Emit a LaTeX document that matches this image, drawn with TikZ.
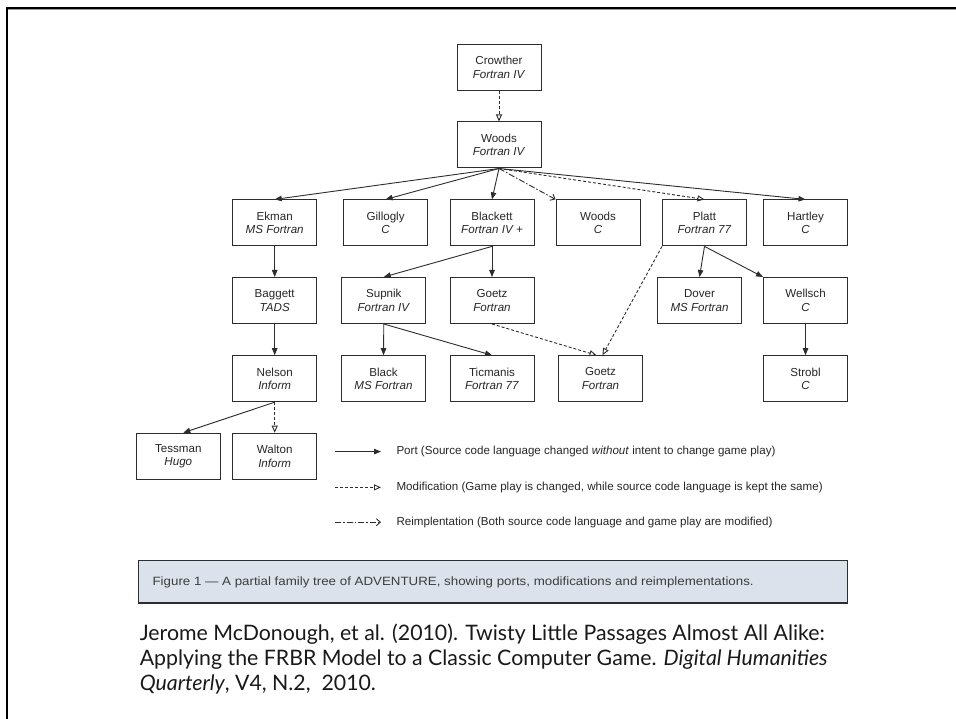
\documentclass[tikz,border=0pt]{standalone}
\usepackage{fontspec}
\setmainfont{Liberation Sans}
\newfontfamily\citefont{Lato}
\usetikzlibrary{arrows.meta}
\definecolor{linegray}{RGB}{45,45,45}
\definecolor{capfill}{RGB}{220,226,236}
\definecolor{captext}{RGB}{60,60,60}
\tikzset{
	box/.style={draw=linegray, line width=1pt, minimum width=84pt, minimum height=46pt, inner sep=0pt, align=center, text=black!85, font=\fontsize{11.6}{13.4}\selectfont},
	port/.style={draw=linegray, line width=0.9pt, -{Triangle[length=7pt,width=5.5pt]}},
	modif/.style={draw=linegray, line width=0.9pt, dash pattern=on 3pt off 2pt, -{Triangle[open,length=7pt,width=6pt]}},
	reimpl/.style={draw=linegray, line width=0.9pt, dash pattern=on 6pt off 2pt on 1.5pt off 2pt, -{Straight Barb[length=4pt,width=7pt]}},
	legendtext/.style={anchor=west, inner sep=0pt, text=black!85, font=\fontsize{11.6}{13}\selectfont},
}
\newcommand{\entry}[2]{#1\\\textit{#2}}

\begin{document}
\begin{tikzpicture}[x=1pt,y=-1pt]
			%%%%% START %%%%%
			\useasboundingbox (0,0) rectangle (956,719);
			
			\draw[line width=2.2pt] (6.6,719) -- (6.6,8) -- (956,8);
			\draw[line width=0.8pt, color=black!40] (7.7,9.8) -- (956,9.8);
			
			\node[box] (crowther) at (499,67.4) {\entry{Crowther}{Fortran IV}};
			\node[box] (woods) at (499,145) {\entry{Woods}{Fortran IV}};
			
			\node[box] (ekman) at (274.7,222.9) {\entry{Ekman}{MS Fortran}};
			\node[box] (gillogly) at (385.6,222.9) {\entry{Gillogly}{C}};
			\node[box] (blackett) at (492,222.9) {\entry{Blackett}{Fortran IV +}};
			\node[box] (woodsc) at (598,222.9) {\entry{Woods}{C}};
			\node[box] (platt) at (704.5,222.9) {\entry{Platt}{Fortran 77}};
			\node[box] (hartley) at (805.5,222.9) {\entry{Hartley}{C}};
			
			\node[box] (baggett) at (274.7,300.5) {\entry{Baggett}{TADS}};
			\node[box] (supnik) at (383.8,300.5) {\entry{Supnik}{Fortran IV}};
			\node[box] (goetz) at (492,300.5) {\entry{Goetz}{Fortran}};
			\node[box] (dover) at (699.5,300.5) {\entry{Dover}{MS Fortran}};
			\node[box] (wellsch) at (805.5,300.5) {\entry{Wellsch}{C}};
			
			\node[box] (nelson) at (274.7,378.7) {\entry{Nelson}{Inform}};
			\node[box] (black) at (383.5,378.7) {\entry{Black}{MS Fortran}};
			\node[box] (ticmanis) at (492,378.7) {\entry{Ticmanis}{Fortran 77}};
			\node[box] (goetzb) at (600.5,378.7) {\entry{Goetz}{Fortran}};
			\node[box] (strobl) at (805.5,378.7) {\entry{Strobl}{C}};
			
			\node[box] (tessman) at (178.3,456.2) {\entry{Tessman}{Hugo}};
			\node[box] (walton) at (274.7,456.2) {\entry{Walton}{Inform}};
			
			\draw[modif] (crowther) -- (woods);
			\draw[port] (woods.south) -- (ekman.north);
			\draw[port] (woods.south) -- (gillogly.north);
			\draw[port] (woods.south) -- (blackett.north);
			\draw[reimpl] (woods.south) -- (woodsc.north west);
			\draw[modif] (woods.south) -- (platt.north);
			\draw[port] (woods.south) -- (hartley.north);
			
			\draw[port] (ekman) -- (baggett);
			\draw[port] (blackett.south) -- (supnik.north);
			\draw[port] (blackett) -- (goetz);
			\draw[port] (platt.south) -- (dover.north);
			\draw[port] (platt.south) -- (wellsch.north west);
			\draw[modif] (platt.south west) -- ([xshift=2pt]goetzb.north);
			\draw[modif] (goetz.south) -- ([xshift=-4pt]goetzb.north);
			
			\draw[port] (baggett) -- (nelson);
			\draw[port] (supnik.south) -- (black.north);
			\draw[port] (supnik.south) -- (ticmanis.north);
			\draw[port] (wellsch) -- (strobl);
			
			\draw[port] (nelson.south) -- ([xshift=5pt]tessman.north);
			\draw[modif] (nelson) -- (walton);
			
			%% legend
			\coordinate (portA) at (335,451.6);
			\coordinate (portB) at (381,451.6);
			\coordinate (modA) at (335,487.4);
			\coordinate (modB) at (381,487.4);
			\coordinate (reA) at (335,522.2);
			\coordinate (reB) at (381,522.2);
			\draw[port] (portA) -- (portB);
			\draw[modif] (modA) -- (modB);
			\draw[reimpl] (reA) -- (reB);
			\node[legendtext] (porttext) at (396.3,451.6) {Port (Source code language changed \textit{without} intent to change game play)};
			\node[legendtext] (modtext) at (396.3,487.4) {Modification (Game play is changed, while source code language is kept the same)};
			\node[legendtext] (retext) at (396.3,522.2) {Reimplentation (Both source code language and game play are modified)};
			
			%% caption
			\draw[line width=1.1pt, draw=linegray, fill=capfill] (138.4,560.3) rectangle (847.6,603);
			\node[anchor=west, inner sep=0pt, text=captext, font=\fontsize{12}{14}\selectfont] (caption) at (152.4,582) {\scalebox{1.11}[1]{Figure 1 --- A partial family tree of ADVENTURE, showing ports, modifications and reimplementations.}};
			
			\node[anchor=west, inner sep=0pt, align=left, text=black!90, font=\citefont\fontsize{21.3}{25.2}\selectfont] (citation) at (139.6,658.9) {Jerome McDonough, et al. (2010). Twisty Little Passages Almost All Alike:\\Applying the FRBR Model to a Classic Computer Game. \textit{Digital Humanities}\\\textit{Quarterly}, V4, N.2,\ \ 2010.};
			
			%%%%% END %%%%%
\end{tikzpicture}
\end{document}
